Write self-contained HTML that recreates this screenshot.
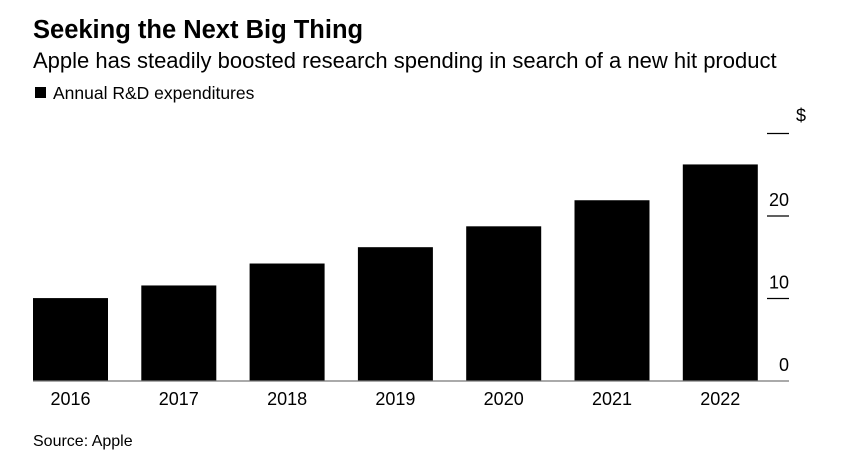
<!DOCTYPE html>
<html><head><meta charset="utf-8"><style>
body{margin:0;background:#fff;font-family:"Liberation Sans",Arial,sans-serif;}
svg{display:block}
</style></head><body>
<svg width="841" height="465">
<text x="33" y="38" font-size="25.5" font-weight="bold" fill="#000">Seeking the Next Big Thing</text>
<text x="33" y="68" font-size="22" fill="#000">Apple has steadily boosted research spending in search of a new hit product</text>
<rect x="35" y="87" width="11" height="11" fill="#000"/>
<text x="53" y="99" font-size="17.5" fill="#000">Annual R&amp;D expenditures</text>
<g id="axis"></g>
<g id="bars"></g>
<text x="33" y="446" font-size="16" fill="#000">Source: Apple</text>
</svg>
<script>
const categories=["2016","2017","2018","2019","2020","2021","2022"];
const values=[10.05,11.58,14.24,16.22,18.75,21.91,26.25];
const ticks=[0,10,20,30];
const tickLabels=["0","10","20","$"];
const NS="http://www.w3.org/2000/svg";
const base=381, pxPer=8.25, x0=33, step=108.3, bw=75;
const y=v=>base-v*pxPer;
const xb=i=>x0+i*step;
const bars=document.getElementById('bars'), axis=document.getElementById('axis');
function mk(t,a){const e=document.createElementNS(NS,t);for(const k in a)e.setAttribute(k,a[k]);return e;}
ticks.forEach((t,i)=>{
  const yy=y(t);
  if(t>0){const l=mk('line',{x1:767,x2:789,y1:yy,y2:yy,stroke:'#000','stroke-width':1.3});
  
  
  axis.appendChild(l);}
  const tx=mk('text',{x:789,y:(i==3?yy-12:yy-10),'font-size':18,'text-anchor':'end',fill:'#000'});
  if(i==3){tx.setAttribute('x',806);}
  tx.textContent=tickLabels[i];
  
  
  axis.appendChild(tx);
});
values.forEach((v,i)=>{
  const r=mk('rect',{x:xb(i),y:y(v),width:bw,height:v*pxPer,fill:'#000'});
  
  
  bars.appendChild(r);
  const t=mk('text',{x:xb(i)+bw/2,y:405,'font-size':18,'text-anchor':'middle',fill:'#000'});
  t.textContent=categories[i];
  
  
  bars.appendChild(t);
});
const bl=mk('line',{x1:33,x2:789,y1:base,y2:base,stroke:'#777','stroke-width':1.2});


bars.appendChild(bl);
</script>
</body></html>
